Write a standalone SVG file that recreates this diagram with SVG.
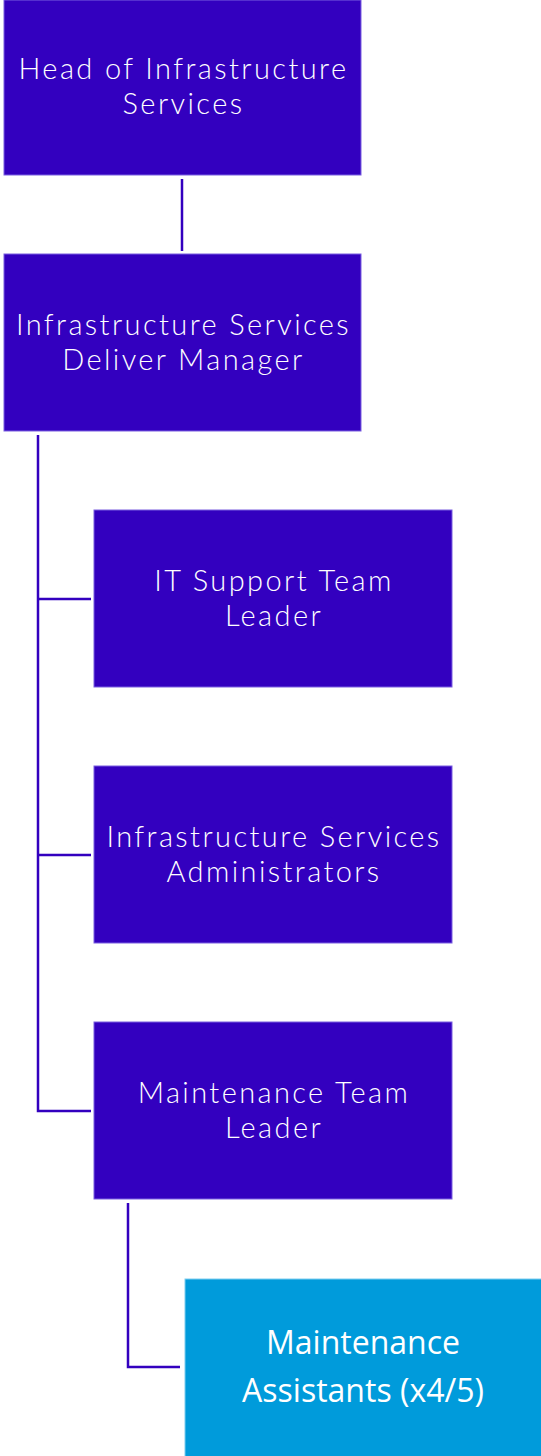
<svg xmlns="http://www.w3.org/2000/svg" width="541" height="1456" viewBox="0 0 541 1456">
<style>
.n{fill:#3300bf;stroke:#7a5ee0;stroke-width:1}
.a{fill:#009bdb;stroke:#7fcdf0;stroke-width:1}
.t{font-family:Lato,"Liberation Sans",sans-serif;font-weight:300;font-size:29px;letter-spacing:2.4px;fill:#fff;text-anchor:middle}
.t2{font-family:"Open Sans","Liberation Sans",sans-serif;font-weight:400;font-size:32px;fill:#fff;text-anchor:middle}
.c{fill:none;stroke:#3300bf;stroke-width:2.5}
</style>
<rect width="541" height="1456" fill="#fff"/>
<g id="connectors">
<path class="c" d="M182 179V251"/>
<path class="c" d="M38 435V1111H91"/>
<path class="c" d="M38 599H91"/>
<path class="c" d="M38 855H91"/>
<path class="c" d="M128 1203V1367H180"/>
</g>
<g id="head"><rect class="n" x="4" y="0" width="357" height="175"/><text class="t" x="183.5" y="79">Head of Infrastructure</text><text class="t" x="183.5" y="114">Services</text></g>
<g id="manager"><rect class="n" x="4" y="254" width="357" height="177"/><text class="t" x="183.5" y="335">Infrastructure Services</text><text class="t" x="183.5" y="370">Deliver Manager</text></g>
<g id="itsupport"><rect class="n" x="94" y="510" width="358" height="177"/><text class="t" x="274" y="591">IT Support Team</text><text class="t" x="274" y="626">Leader</text></g>
<g id="admins"><rect class="n" x="94" y="766" width="358" height="177"/><text class="t" x="274" y="847">Infrastructure Services</text><text class="t" x="274" y="882">Administrators</text></g>
<g id="maintlead"><rect class="n" x="94" y="1022" width="358" height="177"/><text class="t" x="274" y="1103">Maintenance Team</text><text class="t" x="274" y="1138">Leader</text></g>
<g id="assistants"><rect class="a" x="185" y="1279" width="360" height="180"/><text class="t2" x="363" y="1354">Maintenance</text><text class="t2" x="363" y="1402">Assistants (x4/5)</text></g>
</svg>
